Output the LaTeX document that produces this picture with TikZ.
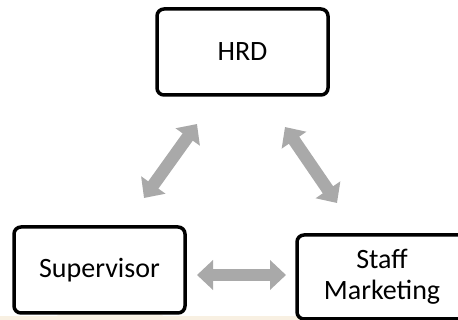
\documentclass[tikz,border=0pt]{standalone}
\usepackage{fontspec}
\setmainfont{Carlito}
\usetikzlibrary{arrows.meta}
\definecolor{arrowgray}{HTML}{A9A9A9}
\definecolor{wmark}{HTML}{FBF5EA}
\definecolor{wstrip}{HTML}{F8F0E2}
\begin{document}
\begin{tikzpicture}[x=1pt,y=-1pt,
  box/.style={draw=black,line width=3.5pt,rounded corners=7pt,fill=white},
  lbl/.style={font=\fontsize{28}{31}\selectfont,align=center,inner sep=0pt},
  fatarrow/.style={draw=arrowgray,line width=12.5pt,
    {Triangle[length=16pt,width=29pt]}-{Triangle[length=16pt,width=29pt]}}]
\useasboundingbox (0,0) rectangle (458,320);
\begin{scope}
\clip (0,0) rectangle (458,320);
% faint watermark
\fill[wmark] (110,272) -- (168,320) -- (52,320) -- cycle;
\fill[wstrip] (0,316) rectangle (458,320);
% boxes
\draw[box] (157,9) rectangle (328,95);
\node[lbl] (hrd) at (242.5,52) {HRD};
\draw[box] (14,227) rectangle (185,313);
\node[lbl] (sup) at (99.5,270) {Supervisor};
\draw[box] (297,235) rectangle (470,319);
\node[lbl] (staff) at (382,277) {Staff\\Marketing};
\end{scope}
% arrows
\coordinate (l1) at (144,198);
\coordinate (l2) at (197,124);
\coordinate (r1) at (285,127);
\coordinate (r2) at (337,203);
\coordinate (b1) at (197,275);
\coordinate (b2) at (286,275);
\draw[fatarrow] (l1) -- (l2);
\draw[fatarrow] (r1) -- (r2);
\draw[fatarrow] (b1) -- (b2);
\end{tikzpicture}
\end{document}
